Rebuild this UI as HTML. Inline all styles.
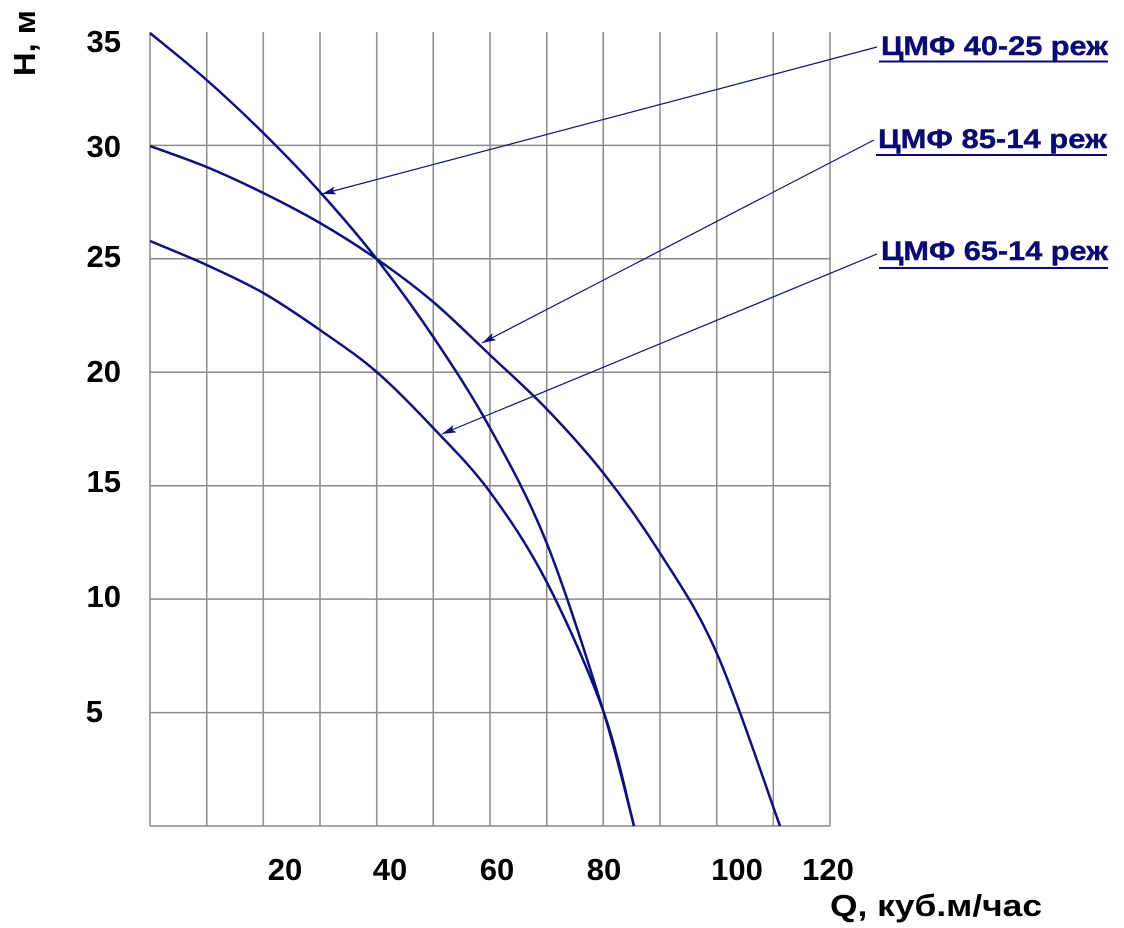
<!DOCTYPE html>
<html><head><meta charset="utf-8"><style>
html,body{margin:0;padding:0;background:#fff;}
svg{display:block;}
text{font-family:"Liberation Sans",Arial,sans-serif;font-weight:bold;}
</style></head><body>
<svg width="1124" height="928" viewBox="0 0 1124 928" xmlns="http://www.w3.org/2000/svg">
<defs>
<marker id="ar" markerWidth="14" markerHeight="8" refX="14" refY="4" orient="auto" markerUnits="userSpaceOnUse">
<path d="M14,4 L0,0 L3,4 L0,8 Z" fill="#10107a"/>
</marker>
</defs>
<g stroke="#8a8a8a" stroke-width="1.5" fill="none">
<line x1="150" y1="32" x2="150" y2="826"/>
<line x1="206.7" y1="32" x2="206.7" y2="826"/>
<line x1="263.3" y1="32" x2="263.3" y2="826"/>
<line x1="320" y1="32" x2="320" y2="826"/>
<line x1="376.7" y1="32" x2="376.7" y2="826"/>
<line x1="433.3" y1="32" x2="433.3" y2="826"/>
<line x1="490" y1="32" x2="490" y2="826"/>
<line x1="546.7" y1="32" x2="546.7" y2="826"/>
<line x1="603.3" y1="32" x2="603.3" y2="826"/>
<line x1="660" y1="32" x2="660" y2="826"/>
<line x1="716.7" y1="32" x2="716.7" y2="826"/>
<line x1="773.3" y1="32" x2="773.3" y2="826"/>
<line x1="830" y1="32" x2="830" y2="826"/>
<line x1="150" y1="145.4" x2="830" y2="145.4"/>
<line x1="150" y1="258.8" x2="830" y2="258.8"/>
<line x1="150" y1="372.3" x2="830" y2="372.3"/>
<line x1="150" y1="485.7" x2="830" y2="485.7"/>
<line x1="150" y1="599.1" x2="830" y2="599.1"/>
<line x1="150" y1="712.6" x2="830" y2="712.6"/>
<line x1="150" y1="826" x2="830" y2="826"/>
</g>
<g stroke="#10107a" stroke-width="2.5" fill="none" stroke-linejoin="round">
<path d="M150,33 C159.45,40.83 187.82,63.33 206.7,80 C225.58,96.67 244.42,114.33 263.3,133 C282.18,151.67 301.12,171 320,192 C338.88,213 357.82,234.83 376.7,259 C395.58,283.17 414.42,308.83 433.3,337 C452.18,365.17 471.12,393.67 490,428 C508.88,462.33 527.82,495.83 546.7,543 C565.58,590.17 588.75,663.83 603.3,711 C617.85,758.17 628.88,806.83 634,826"/>
<path d="M150,146 C159.45,149.5 187.82,159.17 206.7,167 C225.58,174.83 244.42,183.67 263.3,193 C282.18,202.33 301.12,212 320,223 C338.88,234 357.82,245.83 376.7,259 C395.58,272.17 414.42,286 433.3,302 C452.18,318 471.12,337.17 490,355 C508.88,372.83 527.82,389.33 546.7,409 C565.58,428.67 584.42,449 603.3,473 C622.18,497 641.12,523 660,553 C678.88,583 696.7,607.5 716.7,653 C736.7,698.5 769.45,797.17 780,826"/>
<path d="M150,241 C159.45,245 187.82,256.33 206.7,265 C225.58,273.67 244.42,282.17 263.3,293 C282.18,303.83 301.12,316.83 320,330 C338.88,343.17 357.82,355.67 376.7,372 C395.58,388.33 414.42,408 433.3,428 C452.18,448 471.12,466.33 490,492 C508.88,517.67 527.82,545.5 546.7,582 C565.58,618.5 588.75,670.33 603.3,711 C617.85,751.67 628.88,806.83 634,826"/>
</g>
<g stroke="#10107a" stroke-width="1.2" fill="none">
<line x1="877" y1="47" x2="322" y2="194" marker-end="url(#ar)"/>
<line x1="874" y1="140" x2="482" y2="343" marker-end="url(#ar)"/>
<line x1="877" y1="254" x2="442" y2="434" marker-end="url(#ar)"/>
</g>
<g fill="#0a0a70" font-size="27" stroke="#0a0a70" stroke-width="0.4">
<text x="881" y="55" textLength="227" lengthAdjust="spacingAndGlyphs">ЦМФ 40-25 реж</text>
<text x="878" y="148" textLength="229" lengthAdjust="spacingAndGlyphs">ЦМФ 85-14 реж</text>
<text x="881" y="260" textLength="227" lengthAdjust="spacingAndGlyphs">ЦМФ 65-14 реж</text>
</g>
<g stroke="#0a0a70" stroke-width="2">
<line x1="879" y1="61.5" x2="1108" y2="61.5"/>
<line x1="876" y1="155" x2="1107" y2="155"/>
<line x1="879" y1="268" x2="1108" y2="268"/>
</g>
<g fill="#000" font-size="31" text-anchor="end">
<text x="121" y="52">35</text>
<text x="121" y="157">30</text>
<text x="121" y="267">25</text>
<text x="121" y="382">20</text>
<text x="121" y="492">15</text>
<text x="121" y="607">10</text>
<text x="103" y="722">5</text>
</g>
<g fill="#000" font-size="31" text-anchor="middle">
<text x="285" y="880">20</text>
<text x="390" y="880">40</text>
<text x="497" y="880">60</text>
<text x="604" y="880">80</text>
<text x="737" y="880">100</text>
<text x="828" y="880">120</text>
</g>
<text x="830" y="916" font-size="31" fill="#000" textLength="212" lengthAdjust="spacingAndGlyphs">Q, куб.м/час</text>
<text transform="translate(35,76) rotate(-90)" font-size="31" fill="#000" textLength="66" lengthAdjust="spacingAndGlyphs">H, м</text>
</svg>
</body></html>
